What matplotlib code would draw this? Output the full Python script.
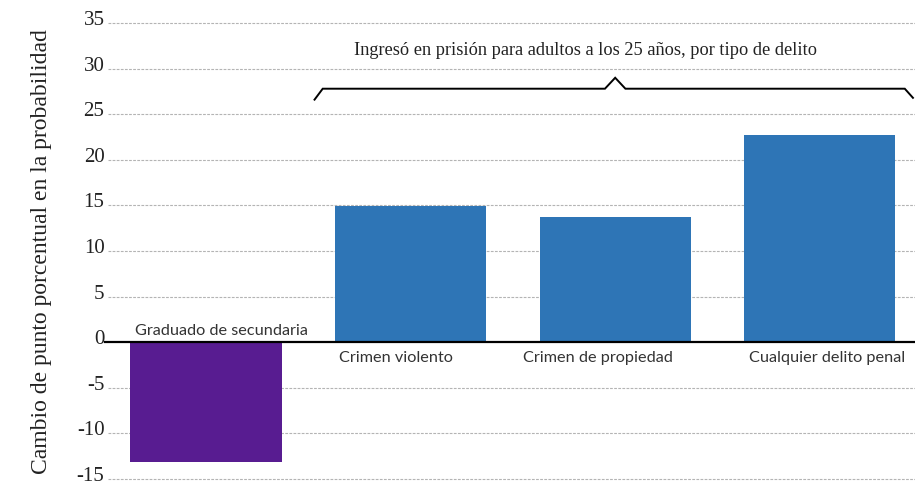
import matplotlib.pyplot as plt
import numpy as np

# data
categories = ["Graduado de secundaria", "Crimen violento",
              "Crimen de propiedad", "Cualquier delito penal"]
values = [-13.1, 14.9, 13.7, 22.7]
bar_colors = ["#581c91", "#2e75b6", "#2e75b6", "#2e75b6"]
yticks = [-15, -10, -5, 0, 5, 10, 15, 20, 25, 30, 35]

group_title = "Ingresó en prisión para adultos a los 25 años, por tipo de delito"
ylabel = "Cambio de punto porcentual en la probabilidad"

SERIF = "Liberation Serif"
SANS = "Lato"

# label tweaks (x shift in bar units)
label_dx = [0.076, -0.073, -0.083, 0.034]
width = 0.74

fig = plt.figure(figsize=(9.15, 4.89), dpi=100)
ax = fig.add_axes([0.118, 0.0129, 0.882, 0.9435])

x = np.arange(len(categories))
ax.bar(x, values, width=width, color=bar_colors, zorder=3)

ax.set_xlim(-0.48, 3.466)
ax.set_ylim(-15.3, 35.3)

for t in yticks:
    if t == 0:
        continue
    ax.axhline(t, color="#b4b4b4", lw=0.8, ls=(0, (2.5, 1.2)), zorder=1)
ax.axhline(0, xmin=-0.004, color="black", lw=1.6, zorder=4, clip_on=False)

# y tick labels sit a little above their gridlines
ax.set_yticks(yticks)
ax.set_yticklabels([])
ax.tick_params(axis="y", length=0)
for t in yticks:
    ax.annotate(str(t), xy=(0, t), xycoords=("axes fraction", "data"),
                xytext=(-2.5, 2.5), textcoords="offset points",
                ha="right", va="center", fontsize=15, family=SERIF,
                color="#222222", annotation_clip=False)
ax.set_xticks([])
for s in ax.spines.values():
    s.set_visible(False)

ax.set_ylabel(ylabel, fontsize=17, family=SERIF, color="#222222", labelpad=37)

# category labels near the zero line
for i, (cat, v) in enumerate(zip(categories, values)):
    if v < 0:
        ax.text(i + label_dx[i], 0.6, cat, ha="center", va="bottom",
                fontsize=11.7, family=SANS, color="#333333", zorder=5)
    else:
        ax.text(i + label_dx[i], -0.9, cat, ha="center", va="top",
                fontsize=11.7, family=SANS, color="#333333", zorder=5)

# brace over the blue bars
left = 1 - width / 2 - 0.1
right = 3 + width / 2 + 0.086
mid = (1 + 3) / 2
bx = [left, left + 0.04, mid - 0.05, mid, mid + 0.05, right - 0.04, right]
by = [26.6, 27.8, 27.8, 29.0, 27.8, 27.8, 26.8]
ax.plot(bx, by, color="black", lw=1.4, clip_on=False, zorder=5,
        solid_joinstyle="miter")

ax.text(1.856, 32.1, group_title, ha="center", va="center",
        fontsize=13.2, family=SERIF, color="#222222")

fig.savefig("out.png", dpi=100)
